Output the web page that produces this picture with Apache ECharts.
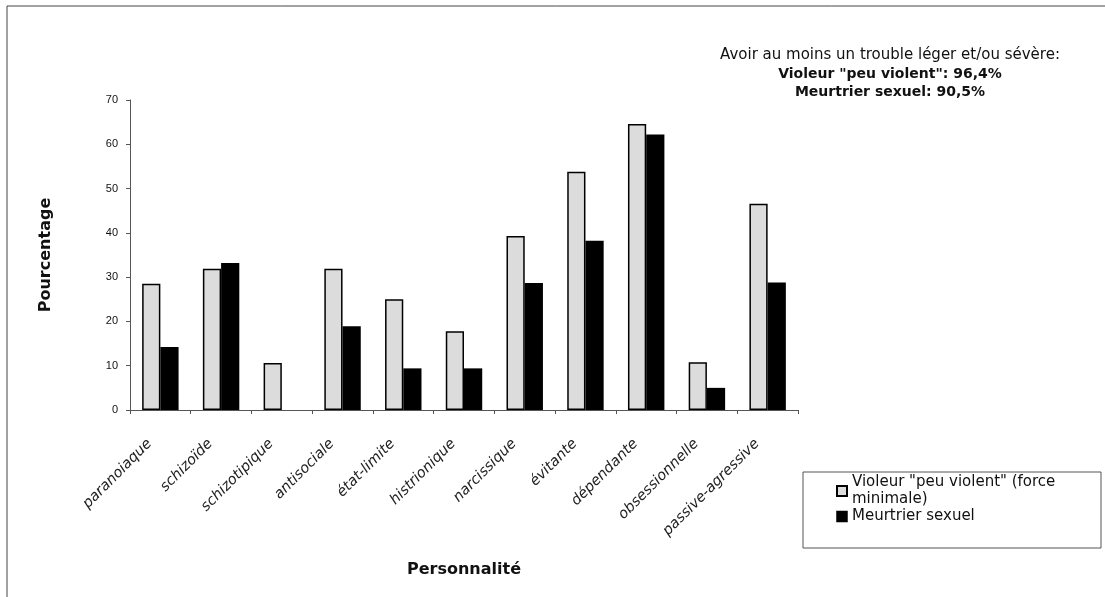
<!DOCTYPE html>
<html>
<head>
<meta charset="utf-8">
<script src="https://cdn.jsdelivr.net/npm/echarts@6/dist/echarts.min.js"></script>
<style>
  html, body { margin: 0; padding: 0; background: #fff; }
  #chart { width: 1105px; height: 597px; }
</style>
</head>
<body>
<div id="chart"></div>
<script>
// categories (personality disorders)
var categories = [
  'paranoiaque', 'schizoïde', 'schizotipique', 'antisociale', 'état-limite',
  'histrionique', 'narcissique', 'évitante', 'dépendante', 'obsessionnelle',
  'passive-agressive'
]
// "peu violent" rapists (force minimale)
var violeurData = [28.5, 31.9, 10.6, 31.9, 25.0, 17.8, 39.3, 53.8, 64.6, 10.8, 46.6]
// sexual murderers
var meurtrierData = [14.2, 33.2, 0, 18.9, 9.4, 9.4, 28.7, 38.2, 62.2, 5.0, 28.8]
var yTicks = [0, 10, 20, 30, 40, 50, 60, 70]
var noteLines = [
  'Avoir au moins un trouble léger et/ou sévère:',
  'Violeur "peu violent": 96,4%',
  'Meurtrier sexuel: 90,5%'
]

var chart = echarts.init(document.getElementById('chart'))
var font = 'DejaVu Sans'

chart.setOption({
  animation: false,
  backgroundColor: '#fff',
  grid: {
    left: 130,
    right: 307,
    top: 100,
    bottom: 187,
    containLabel: false
  },
  legend: {
    orient: 'vertical',
    left: 836,
    top: 474,
    icon: 'rect',
    itemWidth: 10,
    itemHeight: 10,
    itemGap: 0,
    padding: 0,
    textStyle: { fontFamily: font, fontSize: 15, color: '#111', lineHeight: 17 },
    data: [
      'Violeur "peu violent" (force\nminimale)',
      { name: 'Meurtrier sexuel', itemStyle: { borderColor: '#000', borderWidth: 1.5 } }
    ]
  },
  xAxis: {
    type: 'category',
    data: categories,
    name: 'Personnalité',
    nameLocation: 'middle',
    nameGap: 152,
    nameTextStyle: { fontFamily: font, fontSize: 16, fontWeight: 'bold', color: '#111' },
    axisLine: { lineStyle: { color: '#555', width: 1 } },
    axisTick: { show: true, alignWithLabel: false, length: 4, lineStyle: { color: '#555' } },
    axisLabel: {
      rotate: 45,
      interval: 0,
      margin: 21,
      padding: [0, 15, 0, 0],
      fontFamily: font,
      fontStyle: 'italic',
      fontSize: 14.5,
      color: '#222'
    }
  },
  yAxis: {
    type: 'value',
    min: yTicks[0],
    max: yTicks[yTicks.length - 1],
    interval: 10,
    name: 'Pourcentage',
    nameLocation: 'middle',
    nameGap: 76,
    nameTextStyle: { fontFamily: font, fontSize: 16, fontWeight: 'bold', color: '#111' },
    axisLine: { show: true, lineStyle: { color: '#555', width: 1 } },
    axisTick: { show: true, length: 4, lineStyle: { color: '#555' } },
    axisLabel: { fontFamily: 'Liberation Sans', fontSize: 11, color: '#111', margin: 12 },
    splitLine: { show: false }
  },
  series: [
    {
      name: 'Violeur "peu violent" (force\nminimale)',
      type: 'bar',
      barGap: '0%',
      barCategoryGap: '40%',
      itemStyle: { color: '#dcdcdc', borderColor: '#000', borderWidth: 1.5 },
      data: violeurData
    },
    {
      name: 'Meurtrier sexuel',
      type: 'bar',
      itemStyle: { color: '#000', borderWidth: 0 },
      data: meurtrierData
    }
  ],
  graphic: [
    {
      // outer frame: top and left edges only are visible
      type: 'rect',
      shape: { x: 7, y: 6, width: 1110, height: 600 },
      style: { fill: 'none', stroke: '#444', lineWidth: 1 },
      silent: true
    },
    {
      type: 'rect',
      shape: { x: 803, y: 472, width: 298, height: 76 },
      style: { fill: 'none', stroke: '#555', lineWidth: 1 },
      silent: true
    },
    {
      type: 'text', x: 890, y: 55,
      style: { text: noteLines[0], font: '15px "DejaVu Sans"', fill: '#111', textAlign: 'center', textVerticalAlign: 'middle' }
    },
    {
      type: 'text', x: 890, y: 74,
      style: { text: noteLines[1], font: 'bold 14px "DejaVu Sans"', fill: '#111', textAlign: 'center', textVerticalAlign: 'middle' }
    },
    {
      type: 'text', x: 890, y: 92,
      style: { text: noteLines[2], font: 'bold 14px "DejaVu Sans"', fill: '#111', textAlign: 'center', textVerticalAlign: 'middle' }
    }
  ]
})
</script>
</body>
</html>
